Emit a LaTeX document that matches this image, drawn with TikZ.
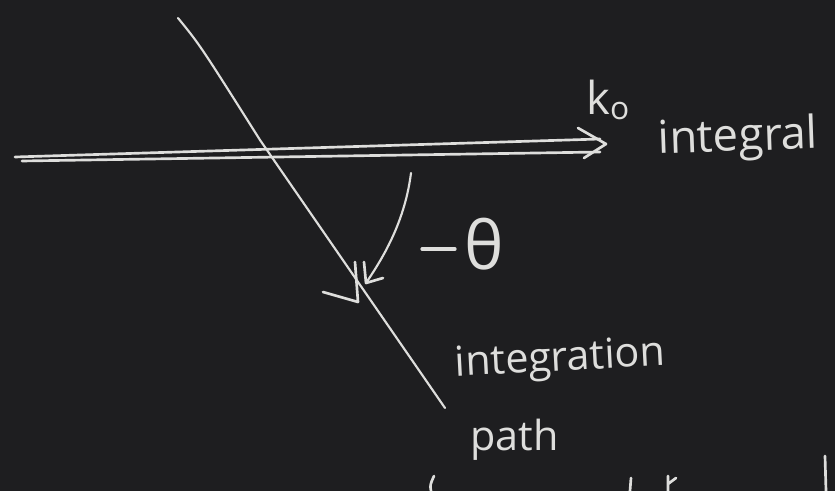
\documentclass[tikz,border=0pt]{standalone}
\usepackage{fontspec}
\setmainfont{Open Sans}
\usetikzlibrary{arrows.meta}
\definecolor{board}{RGB}{30,30,32}
\definecolor{chalk}{RGB}{222,222,220}
\tikzset{
  chalkline/.style={draw=chalk, line width=2pt, line cap=round, line join=round},
  chalktext/.style={text=chalk, inner sep=0pt, anchor=west},
}
\begin{document}
\begin{tikzpicture}[x=0.75pt,y=-0.75pt]
  \fill[board] (0,0) rectangle (835,491);
  \useasboundingbox (0,0) rectangle (835,491);
  % horizontal axis (double chalk stroke)
  \coordinate (hl1) at (15,157);
  \coordinate (hr1) at (600,139);
  \coordinate (hl2) at (22,161);
  \coordinate (hr2) at (600,152);
  \coordinate (htip) at (606,144);
  \draw[chalkline] (hl1) -- (hr1);
  \draw[chalkline] (hl2) -- (hr2);
  \draw[chalkline] (578,128) -- (htip) -- (584,158);
  % diagonal integration path
  \coordinate (dtop) at (178,18);
  \coordinate (dbot) at (445,408);
  \draw[chalkline, line width=1.6pt] (dtop) .. controls (200,45) .. (260,140) -- (dbot);
  % arrowhead on the path
  \coordinate (ptip) at (358,302);
  \draw[chalkline] (323,292) -- (ptip) -- (355,262);
  % curved rotation arrow
  \coordinate (cstart) at (411,173);
  \coordinate (ctip) at (366,283);
  \draw[chalkline, line width=1.6pt] (cstart) .. controls (405,220) and (385,255) .. (ctip);
  \draw[chalkline] (364,262) -- (ctip) -- (383,278);
  % labels
  \draw[chalkline, line width=2.4pt] (422,249) -- (455,249);
  \node[chalktext, font=\fontsize{50}{50}\selectfont] (theta) at (464,244) {θ};
  \node[chalktext, font=\fontsize{34}{34}\selectfont] (k0) at (586,100) {k\textsubscript{o}};
  \node[chalktext, font=\fontsize{34}{34}\selectfont, rotate=2] (integral) at (658,142) {integral};
  \node[chalktext, font=\fontsize{31}{31}\selectfont, rotate=3] (integration) at (455,366) {integration};
  \node[chalktext, font=\fontsize{31}{31}\selectfont] (path) at (470,440) {path};
  % partial strokes at bottom edge
  \draw[chalkline] (434,476) .. controls (430,485) .. (431,491);
  \draw[chalkline] (631,478) -- (630,491);
  \draw[chalkline] (825,456) -- (826,491);
  \draw[chalkline] (668,476) -- (668,491) (668,484) -- (676,478);
\end{tikzpicture}
\end{document}
